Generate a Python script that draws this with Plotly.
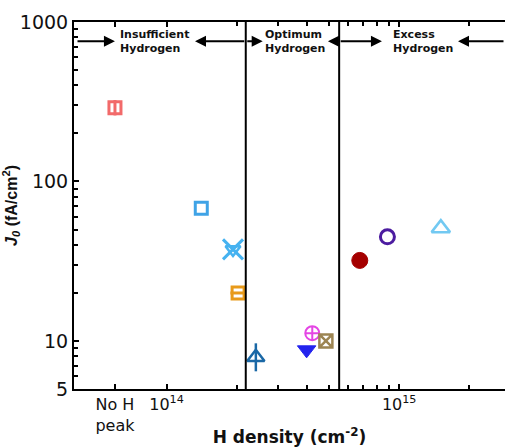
import math
import plotly.graph_objects as go

# ---------------- data ----------------
pink_x, pink_y = [6.0e13], [290]
blue_sq_x, blue_sq_y = [1.41e14], [68]
ltblue_x_x, ltblue_x_y = [1.93e14], [37.5]
orange_x, orange_y = [2.03e14], [20]
dkblue_tri_x, dkblue_tri_y = [2.42e14], [7.9]
blue_down_x, blue_down_y = [4.0e14], [8.8]
magenta_x, magenta_y = [4.23e14], [11.2]
brown_x, brown_y = [4.84e14], [10]
darkred_x, darkred_y = [6.77e14], [32]
purple_x, purple_y = [8.9e14], [45]
ltblue_tri_x, ltblue_tri_y = [1.51e15], [51]

region_bounds = [2.19e14, 5.52e14]
region_labels = ["Insufficient<br>Hydrogen", "Optimum<br>Hydrogen", "Excess<br>Hydrogen"]
region_label_x = [8.83e13, 3.56e14, 1.265e15]
arrow_y = 757
# (tail, head) in H density
arrows = [(4.08e13, 6.0e13), (2.19e14, 1.325e14), (2.19e14, 2.59e14),
          (5.52e14, 4.94e14), (5.52e14, 8.43e14), (2.85e15, 1.79e15)]

x_tickvals = [6.0e13, 1e14, 1e15]
x_ticktext = ["No H<br>peak", "10<sup>14</sup>", "10<sup>15</sup>"]
x_minor = [2e14, 3e14, 4e14, 5e14, 6e14, 7e14, 8e14, 9e14, 2e15]
y_tickvals = [5, 10, 100, 1000]
y_ticktext = ["5", "10", "100", "1000"]
y_minor = [6, 7, 8, 9, 20, 30, 40, 50, 60, 70, 80, 90, 200, 300, 400, 500, 600, 700, 800, 900]

x_range = [4.0e13, 2.85e15]
y_range = [5, 1000]

# ---------------- figure ----------------
fig = go.Figure()


def add(x, y, symbol, color, size, lw=2.5):
    fig.add_trace(go.Scatter(
        x=x, y=y, mode="markers",
        marker=dict(symbol=symbol, color=color, size=size,
                    line=dict(color=color, width=lw)),
        showlegend=False, hoverinfo="skip"))


add(pink_x, pink_y, "square-open", "#f26a6a", 12, lw=3)
add(pink_x, pink_y, "line-ns-open", "#f26a6a", 11, lw=3)
add(blue_sq_x, blue_sq_y, "square-open", "#3fa3e6", 12, lw=3)
add(ltblue_x_x, ltblue_x_y, "x-thin-open", "#45b2f0", 20, lw=3)
add(ltblue_x_x, ltblue_x_y, "triangle-down-open", "#45b2f0", 13, lw=2.5)
add(orange_x, orange_y, "square-open", "#e89a1a", 12, lw=3)
add(orange_x, orange_y, "line-ew-open", "#e89a1a", 11, lw=3)
add(dkblue_tri_x, dkblue_tri_y, "triangle-up-open", "#1a68a6", 15, lw=2.5)
add(dkblue_tri_x, dkblue_tri_y, "line-ns-open", "#1a68a6", 20, lw=2.5)
add(blue_down_x, blue_down_y, "triangle-down", "#2323ee", 16, lw=1)
add(magenta_x, magenta_y, "circle-cross-open", "#e445e4", 14, lw=2)
add(brown_x, brown_y, "square-x-open", "#9c8452", 13, lw=2.5)
add(darkred_x, darkred_y, "circle", "#a50000", 16, lw=1)
add(purple_x, purple_y, "circle-open", "#4c1ca0", 14, lw=3)
add(ltblue_tri_x, ltblue_tri_y, "triangle-up-open", "#72c9f2", 16, lw=2.5)

for b in region_bounds:
    fig.add_shape(type="line", xref="x", yref="paper", x0=b, x1=b, y0=0, y1=1,
                  line=dict(color="black", width=2))

for txt, xv in zip(region_labels, region_label_x):
    fig.add_annotation(x=math.log10(xv), y=math.log10(arrow_y), text="<b>" + txt + "</b>",
                       showarrow=False, font=dict(size=11, color="#111", family="DejaVu Sans"),
                       align="left")

for tail, head in arrows:
    fig.add_annotation(x=math.log10(head), y=math.log10(arrow_y),
                       ax=math.log10(tail), ay=math.log10(arrow_y),
                       axref="x", ayref="y", xref="x", yref="y",
                       text="", showarrow=True, arrowhead=2, arrowsize=1.1,
                       arrowwidth=2, arrowcolor="black", standoff=0, startstandoff=0)

fig.update_layout(
    width=505, height=447,
    margin=dict(l=74, r=0, t=22, b=58),
    plot_bgcolor="white", paper_bgcolor="white",
    font=dict(family="DejaVu Sans", color="#111"),
)
fig.update_xaxes(
    type="log", range=[math.log10(x_range[0]), math.log10(x_range[1])],
    tickmode="array", tickvals=x_tickvals, ticktext=x_ticktext,
    ticks="inside", ticklen=5, tickwidth=1.5, tickcolor="black",
    minor=dict(tickmode="array", tickvals=x_minor, ticks="inside", ticklen=4, tickcolor="black"),
    showline=True, linecolor="black", linewidth=2, mirror="ticks",
    showgrid=False, zeroline=False, automargin=False,
    tickfont=dict(size=16),
    title=dict(text="<b>H density (cm<sup>-2</sup>)</b>", font=dict(size=17), standoff=2),
)
fig.update_yaxes(
    type="log", range=[math.log10(y_range[0]), math.log10(y_range[1])],
    tickmode="array", tickvals=y_tickvals, ticktext=y_ticktext,
    ticks="inside", ticklen=5, tickwidth=1.5, tickcolor="black",
    minor=dict(tickmode="array", tickvals=y_minor, ticks="inside", ticklen=4, tickcolor="black"),
    showline=True, linecolor="black", linewidth=2, mirror=False,
    showgrid=False, zeroline=False, automargin=False,
    tickfont=dict(size=19),
    title=dict(text="<b><i>J<sub>0</sub></i> (fA/cm<sup>2</sup>)</b>",
               font=dict(size=16, family="Liberation Sans"), standoff=4),
)

fig.write_html("out.html")
